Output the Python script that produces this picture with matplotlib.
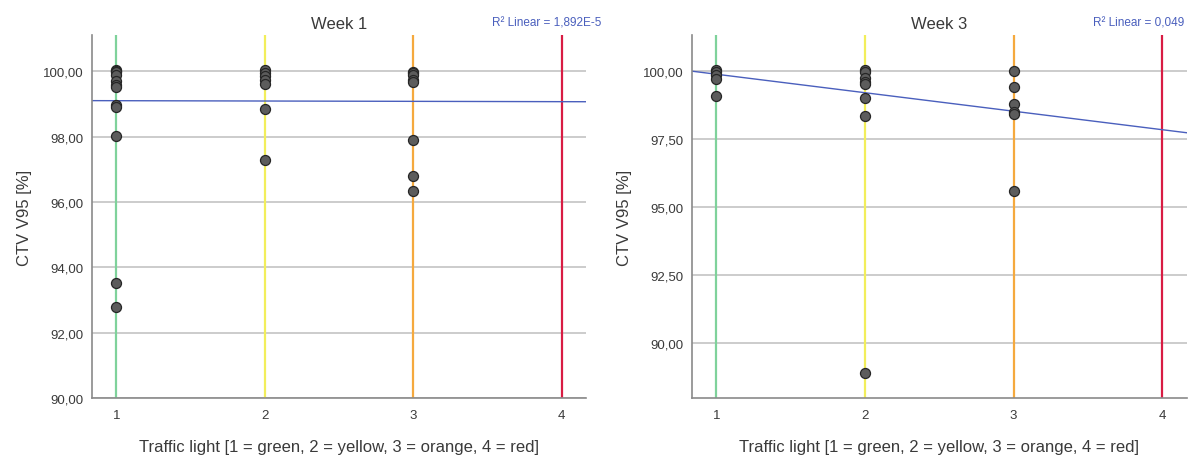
import numpy as np
import matplotlib
matplotlib.use("Agg")
import matplotlib.pyplot as plt
from matplotlib.ticker import FuncFormatter

plt.rcParams['font.family'] = ['Liberation Sans', 'DejaVu Sans']

# Traffic-light categories and their line colours
categories = [1, 2, 3, 4]
category_labels = ["1", "2", "3", "4"]
category_colors = ["#7fd29b", "#f2ee5b", "#f5a93e", "#d81c43"]

# CTV V95 [%] per traffic-light category, week 1
week1_cat1 = [100.05, 100.00, 99.97, 99.89, 99.69, 99.59, 99.53, 98.97, 98.92, 98.02, 93.51, 92.78]
week1_cat2 = [100.05, 99.95, 99.85, 99.74, 99.62, 98.86, 97.28]
week1_cat3 = [99.99, 99.95, 99.89, 99.74, 99.68, 97.91, 96.80, 96.34]

# CTV V95 [%] per traffic-light category, week 3
week3_cat1 = [100.05, 99.98, 99.85, 99.72, 99.08]
week3_cat2 = [100.06, 99.96, 99.74, 99.62, 99.53, 99.02, 98.37, 88.90]
week3_cat3 = [99.99, 99.42, 98.78, 98.49, 98.43, 95.59]

# Linear fit (intercept, slope) and R² per week
week1_fit = (99.11, -0.010)
week3_fit = (100.57, -0.680)
week1_r2 = "1,892E-5"
week3_r2 = "0,049"

week1_yticks = [90, 92, 94, 96, 98, 100]
week3_yticks = [90.0, 92.5, 95.0, 97.5, 100.0]

panels = [
    dict(title="Week 1", groups=[week1_cat1, week1_cat2, week1_cat3], fit=week1_fit,
         r2=week1_r2, yticks=week1_yticks, ylim=(90, 101.11),
         rect=[0.0766, 0.125, 0.4124, 0.796]),
    dict(title="Week 3", groups=[week3_cat1, week3_cat2, week3_cat3], fit=week3_fit,
         r2=week3_r2, yticks=week3_yticks, ylim=(87.99, 101.33),
         rect=[0.5769, 0.125, 0.4131, 0.796]),
]

fig = plt.figure(figsize=(11.99, 4.56), dpi=100)
text_color = "#3a3a3a"
comma_fmt = FuncFormatter(lambda v, pos: f"{v:.2f}".replace(".", ","))

for p in panels:
    ax = fig.add_axes(p["rect"])
    xlim = (0.835, 4.166)
    ax.set_xlim(*xlim)
    ax.set_ylim(*p["ylim"])

    # horizontal grid
    for yv in p["yticks"]:
        ax.axhline(yv, color="#c4c4c4", lw=1.2, zorder=0)

    # coloured category reference lines
    for c, col in zip(categories, category_colors):
        ax.axvline(c, color=col, lw=1.6, zorder=1)

    # observations
    for c, vals in zip(categories, p["groups"]):
        ax.scatter([c] * len(vals), vals, s=52, facecolor="#5c5c5c",
                   edgecolor="#262626", linewidth=0.9, zorder=3)

    # linear fit line
    b0, b1 = p["fit"]
    xs = np.array(xlim)
    ax.plot(xs, b0 + b1 * xs, color="#4a5fbd", lw=1.0, zorder=2)

    ax.set_xticks(categories)
    ax.set_xticklabels(category_labels)
    ax.set_yticks(p["yticks"])
    ax.yaxis.set_major_formatter(comma_fmt)
    ax.tick_params(axis="both", length=0, labelsize=9.5, colors=text_color)
    ax.tick_params(axis="y", pad=6)
    ax.tick_params(axis="x", pad=8)

    for side in ("top", "right"):
        ax.spines[side].set_visible(False)
    for side in ("left", "bottom"):
        ax.spines[side].set_color("#8a8a8a")
        ax.spines[side].set_linewidth(1.2)

    ax.set_title(p["title"], fontsize=12, color=text_color, pad=5)
    ax.set_xlabel("Traffic light [1 = green, 2 = yellow, 3 = orange, 4 = red]",
                  fontsize=12, color=text_color, labelpad=13)
    ax.set_ylabel("CTV V95 [%]", fontsize=12, color=text_color, labelpad=8)

    # R² annotation in the title band, left-aligned near the right edge
    ax.text(1.0 - 94 / (p["rect"][2] * 1199), 1.0 + 7 / (p["rect"][3] * 456),
            f"R² Linear = {p['r2']}", transform=ax.transAxes,
            fontsize=8.5, color="#4a5fbd", ha="left", va="bottom",
            clip_on=False)

fig.savefig("out.png", dpi=100)
